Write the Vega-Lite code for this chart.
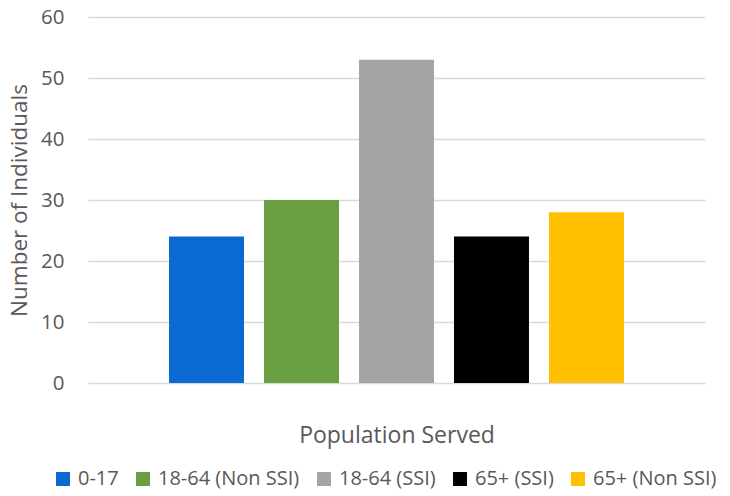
{
  "$schema": "https://vega.github.io/schema/vega-lite/v6.json",
  "width": 617,
  "height": 366,
  "autosize": {"type": "none"},
  "padding": {"left": 88, "top": 17, "right": 25, "bottom": 113},
  "background": "white",
  "config": {
    "view": {"stroke": null},
    "font": "Open Sans"
  },
  "data": {
    "values": [
      {"group": "0-17", "count": 24},
      {"group": "18-64 (Non SSI)", "count": 30},
      {"group": "18-64 (SSI)", "count": 53},
      {"group": "65+ (SSI)", "count": 24},
      {"group": "65+ (Non SSI)", "count": 28}
    ]
  },
  "mark": {"type": "bar"},
  "encoding": {
    "x": {
      "field": "group",
      "type": "nominal",
      "sort": null,
      "scale": {"paddingInner": 0.2105, "paddingOuter": 0.853},
      "axis": {
        "title": "Population Served",
        "labels": false,
        "ticks": false,
        "domain": false,
        "titleFont": "Open Sans",
        "titleFontSize": 23,
        "titleFontWeight": "normal",
        "titleColor": "#595959",
        "titlePadding": 41
      }
    },
    "y": {
      "field": "count",
      "type": "quantitative",
      "scale": {"domain": [0, 60]},
      "axis": {
        "title": "Number of Individuals",
        "values": [0, 10, 20, 30, 40, 50, 60],
        "ticks": false,
        "domain": false,
        "gridColor": "#d9d9d9",
        "gridWidth": 1.3,
        "labelFontSize": 20.5,
        "labelColor": "#595959",
        "labelPadding": 24,
        "titleFontSize": 22.5,
        "titleFontWeight": "normal",
        "titleColor": "#595959",
        "titlePadding": 9
      }
    },
    "color": {
      "field": "group",
      "type": "nominal",
      "sort": null,
      "scale": {
        "domain": ["0-17", "18-64 (Non SSI)", "18-64 (SSI)", "65+ (SSI)", "65+ (Non SSI)"],
        "range": ["#0a6ad1", "#6a9f41", "#a5a5a5", "#000000", "#ffc000"]
      },
      "legend": {
        "title": null,
        "orient": "none",
        "legendX": -35,
        "legendY": 452,
        "direction": "horizontal",
        "columns": 5,
        "symbolType": "square",
        "symbolSize": 196,
        "symbolStrokeWidth": 0,
        "labelFontSize": 20,
        "labelColor": "#595959",
        "labelOffset": 5,
        "columnPadding": 14
      }
    }
  }
}
